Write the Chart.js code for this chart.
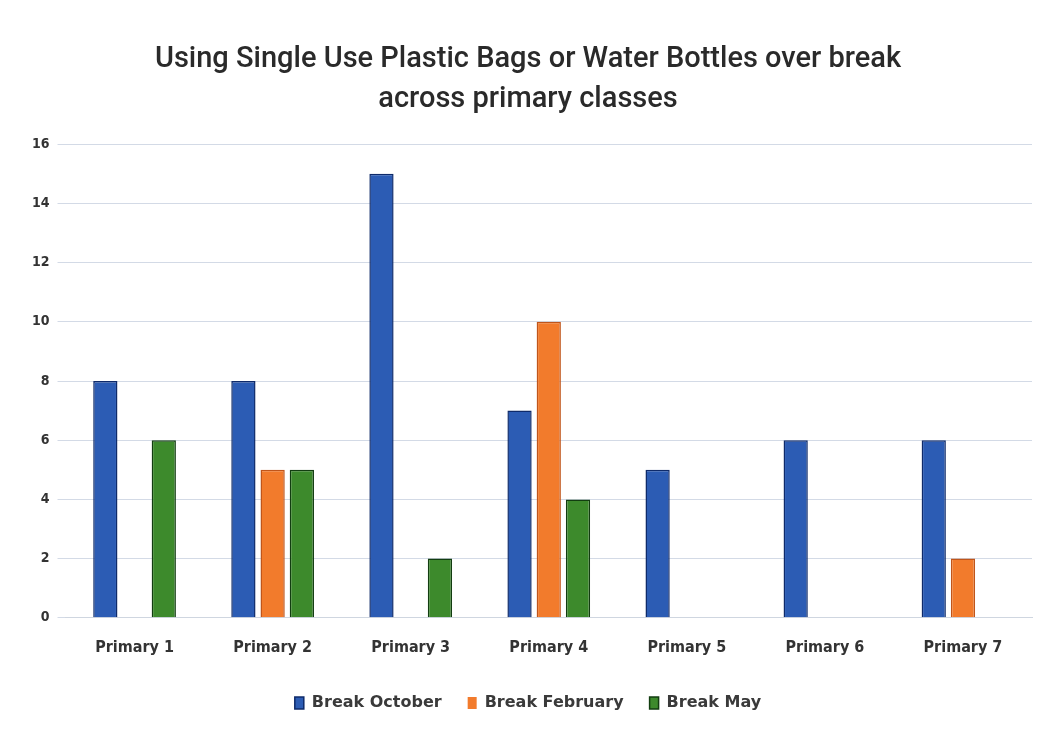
<!DOCTYPE html>
<html lang="en">

<head>
    <meta charset="UTF-8">
    <title>Single Use Plastic Bags or Water Bottles</title>
    <script src="https://cdn.jsdelivr.net/npm/chart.js@4/dist/chart.umd.min.js"></script>
    <style>
        html, body { margin: 0; padding: 0; background: #fff; }
        #wrap { width: 1056px; height: 740px; }
    </style>
</head>

<body>
    <div id="wrap"><canvas id="chart"></canvas></div>
    <script>
        // data
        const categories = ['Primary 1', 'Primary 2', 'Primary 3', 'Primary 4', 'Primary 5', 'Primary 6', 'Primary 7'];
        const breakOctober = [8, 8, 15, 7, 5, 6, 6];
        const breakFebruary = [0, 5, 0, 10, 0, 0, 2];
        const breakMay = [6, 5, 2, 4, 0, 0, 0];
        const yTicks = [0, 2, 4, 6, 8, 10, 12, 14, 16];

        const font = "'DejaVu Sans Condensed', 'Roboto', sans-serif";
        const edge = ctx => ctx.raw ? 1.5 : 0;

        const canvas = document.getElementById("chart");
        let chart = new Chart(canvas, {
            type: 'bar',
            data: {
                labels: categories,
                datasets: [{
                    label: 'Break October',
                    data: breakOctober,
                    backgroundColor: '#2c5cb4',
                    borderColor: '#0e2a6a',
                    borderWidth: edge
                }, {
                    label: 'Break February',
                    data: breakFebruary,
                    backgroundColor: '#f27b2c',
                    borderColor: '#c0551a',
                    borderWidth: edge
                }, {
                    label: 'Break May',
                    data: breakMay,
                    backgroundColor: '#3d8a2c',
                    borderColor: '#123d10',
                    borderWidth: edge
                }]
            },
            options: {
                responsive: true,
                maintainAspectRatio: false,
                animation: false,
                categoryPercentage: 0.635,
                barPercentage: 0.83,
                layout: { padding: { left: 24, right: 24, top: 20, bottom: 19 } },
                plugins: {
                    title: {
                        display: true,
                        text: ['Using Single Use Plastic Bags or Water Bottles over break', 'across primary classes'],
                        color: '#2a2a2a',
                        font: { family: "'Roboto', sans-serif", size: 29, weight: '500', lineHeight: 1.4 },
                        padding: { top: 19, bottom: 24 }
                    },
                    legend: {
                        position: 'bottom',
                        labels: {
                            color: '#3a3a3a',
                            boxWidth: 9,
                            boxHeight: 12,
                            padding: 26,
                            font: { family: "'DejaVu Sans', sans-serif", size: 16, weight: 'bold' }
                        }
                    },
                    tooltip: { enabled: false }
                },
                scales: {
                    x: {
                        grid: { display: false },
                        border: { display: true, color: '#cfd6e0' },
                        ticks: {
                            color: '#333',
                            padding: 12,
                            font: { family: font, size: 16, weight: 'bold' }
                        }
                    },
                    y: {
                        min: 0,
                        max: 16,
                        afterBuildTicks: axis => { axis.ticks = yTicks.map(v => ({ value: v })); },
                        grid: { color: '#d3dae6', lineWidth: 1 },
                        border: { display: false },
                        ticks: {
                            color: '#333',
                            padding: 8,
                            font: { family: font, size: 14, weight: 'bold' }
                        }
                    }
                }
            }
        });
    </script>
</body>

</html>
